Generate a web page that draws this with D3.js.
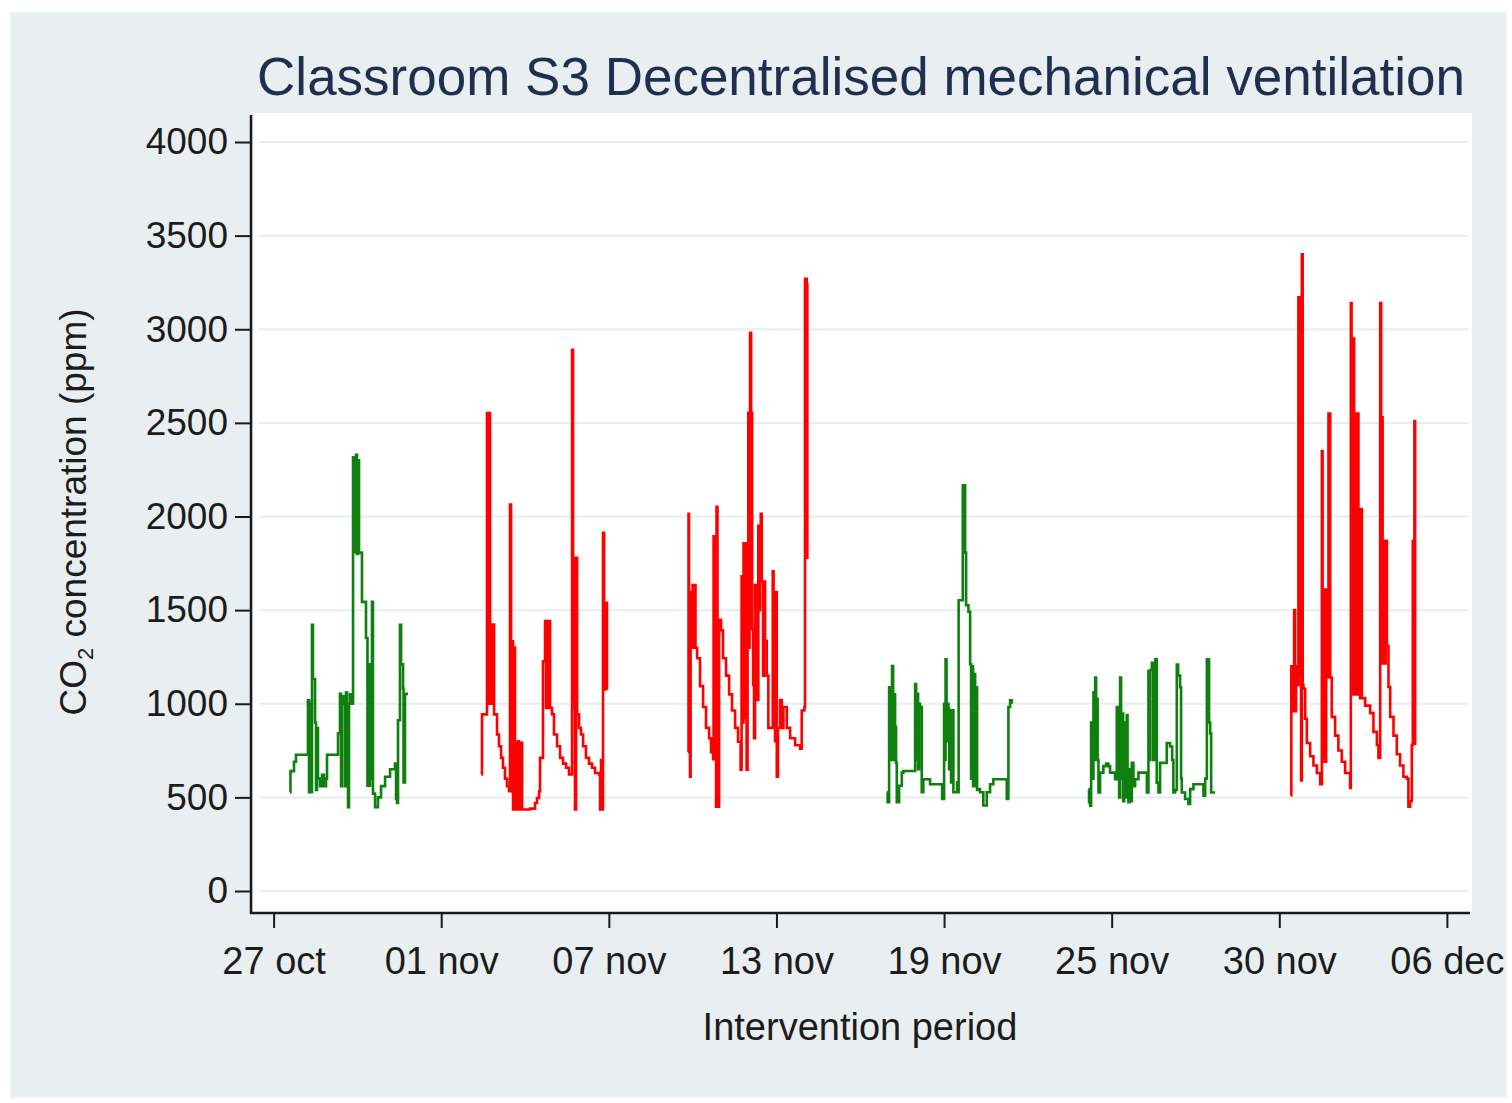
<!DOCTYPE html>
<html>
<head>
<meta charset="utf-8">
<script src="https://cdn.jsdelivr.net/npm/d3@7"></script>
<style>
  html, body { margin: 0; padding: 0; background: #ffffff; }
  svg { display: block; }
  text { font-family: "Liberation Sans", Arial, sans-serif; }
</style>
</head>
<body>
<svg id="chart" width="1512" height="1103"></svg>
<script>
// ---------------- DATA ----------------
// time = hours since 27 Oct 00:00, value = CO2 ppm
const titleText = "Classroom S3 Decentralised mechanical ventilation";
const xTitle = "Intervention period";
const yTitleMain = "CO";
const yTitleSub = "2";
const yTitleRest = " concentration (ppm)";

const xTickHours = [0, 137.14, 274.29, 411.43, 548.57, 685.71, 822.86, 960];
const xTickLabels = ["27 oct", "01 nov", "07 nov", "13 nov", "19 nov", "25 nov", "30 nov", "06 dec"];
const yTicks = [0, 500, 1000, 1500, 2000, 2500, 3000, 3500, 4000];

const weekColors = ["green", "red", "red", "green", "green", "red"];

const week1 = [
  [13.4,527],[13.8,640],[15.9,640],[16.7,690],[18.3,728],[26.5,728],[28.1,1018],[29.0,527],[29.8,1000],[30.6,527],
  [31.4,1421],[32.2,1132],[33.1,1132],[33.9,900],[34.7,540],[35.5,870],[36.3,600],[38.0,560],[39.6,620],[41.2,560],
  [42.9,600],[43.7,728],[51.9,728],[52.7,842],[54.3,1053],[55.2,560],[56.0,1040],[57.6,1000],[58.4,560],[59.2,1060],
  [60.1,1000],[60.9,448],[61.7,1000],[62.5,1050],[64.2,1000],[65.0,2316],[65.8,2280],[66.6,1810],[67.4,2330],[68.2,1800],
  [69.1,2300],[69.9,1807],[71.5,1807],[72.3,1544],[74.8,1544],[75.6,1351],[76.4,1351],[76.8,562],[77.2,1211],[78.1,562],
  [78.9,1211],[79.7,600],[80.5,1544],[81.3,520],[83.0,448],[85.4,500],[87.9,560],[91.2,610],[95.3,650],[99.3,680],
  [100.2,491],[101.0,470],[101.8,912],[102.6,912],[103.4,1421],[104.3,1211],[105.1,1211],[105.9,1080],[106.3,580],[107.5,1053],
  [110.0,1053]
];

const week2 = [
  [170.1,622],[170.5,943],[173.8,943],[174.6,2553],[175.4,1000],[176.3,2553],[177.1,1000],[177.9,1423],[178.7,1000],[179.5,1423],
  [180.4,943],[181.2,943],[182.8,836],[184.4,773],[186.1,711],[187.7,658],[189.3,600],[191.0,560],[192.6,533],[193.4,2064],
  [194.3,533],[195.1,1334],[195.9,435],[196.7,1300],[197.5,435],[198.4,791],[199.2,435],[200.0,800],[200.8,435],[202.4,791],
  [203.3,435],[205.7,435],[209.8,440],[213.9,470],[215.5,497],[217.2,533],[218.0,711],[219.6,711],[220.4,1227],[221.3,1227],
  [222.1,1441],[222.9,978],[223.7,1441],[224.5,978],[225.4,1441],[226.2,978],[227.8,943],[229.4,836],[231.9,773],[234.4,711],
  [236.8,680],[239.3,658],[241.7,622],[243.4,622],[244.2,2890],[245.0,1779],[245.8,978],[246.6,435],[247.5,1779],[248.3,943],
  [249.9,871],[251.5,836],[253.2,773],[255.6,711],[258.1,680],[260.5,658],[263.0,630],[266.3,622],[267.1,435],[267.9,700],
  [268.7,435],[269.5,1913],[270.4,1539],[271.2,1076],[272.0,1539],[272.8,1076]
];

const week3 = [
  [339.1,741],[339.5,2015],[339.9,1500],[340.7,611],[341.2,1596],[342.0,1299],[342.8,1634],[343.6,1299],[344.4,1634],[345.2,1299],
  [346.5,1243],[348.9,1094],[351.4,983],[353.8,871],[356.3,816],[357.9,741],[359.6,704],[360.0,1894],[360.8,1100],[361.2,1894],
  [362.0,450],[362.4,2052],[363.2,1150],[364.1,450],[364.5,1392],[365.3,1448],[366.1,1392],[367.7,1243],[370.2,1150],[372.7,1050],
  [375.1,964],[377.6,871],[380.0,797],[382.1,648],[382.9,1680],[383.7,900],[384.5,1857],[385.3,927],[386.2,1857],[387.0,648],
  [387.8,1400],[388.4,2554],[389.0,1300],[389.4,2554],[389.8,2981],[390.7,2554],[391.5,1400],[392.3,1100],[393.1,816],[393.9,1634],
  [394.7,1020],[395.6,1634],[396.0,1020],[396.6,1950],[397.2,1500],[398.0,1950],[398.6,2015],[399.4,1652],[400.5,1150],[401.3,1652],
  [402.1,1336],[403.5,1150],[404.8,871],[407.6,871],[408.4,1708],[409.1,1000],[409.5,1596],[410.3,800],[411.1,1596],[411.7,611],
  [412.7,871],[414.4,1020],[415.8,871],[417.1,983],[419.9,871],[422.6,816],[426.7,778],[430.8,760],[432.1,964],[434.3,983],
  [434.8,3270],[436.2,3240],[436.7,1773]
];

const week4 = [
  [501.7,527],[502.4,474],[503.0,474],[503.6,1088],[504.4,700],[505.2,1088],[506.0,1202],[506.9,700],[507.7,1050],[508.5,877],
  [509.3,684],[509.9,474],[511.8,562],[514.0,632],[515.3,641],[523.2,641],[524.9,1105],[525.7,700],[526.5,1053],[527.3,650],
  [528.1,1000],[528.9,983],[530.3,527],[531.6,597],[535.7,597],[537.1,570],[546.7,570],[547.0,492],[548.6,1000],[549.4,700],
  [549.8,1237],[550.6,800],[551.4,1000],[552.1,974],[552.7,650],[553.5,965],[554.3,580],[555.1,965],[556.2,527],[559.2,580],
  [560.3,527],[560.5,1553],[562.5,1553],[563.9,2167],[565.8,1807],[566.6,1526],[568.5,1491],[569.9,1211],[570.7,600],[571.5,1200],
  [572.3,560],[573.1,1158],[574.0,560],[574.8,1088],[575.6,540],[576.7,544],[578.0,527],[580.7,457],[583.5,527],[586.2,570],
  [588.9,597],[598.5,597],[599.9,492],[601.2,983],[602.6,1018],[604.0,1000]
];

const week5 = [
  [666.7,544],[667.2,474],[668.1,456],[668.9,900],[669.7,600],[670.8,1061],[671.3,700],[672.2,1140],[673.0,800],[673.5,1026],
  [674.2,700],[674.9,526],[676.2,632],[678.9,667],[681.2,680],[683.0,667],[684.4,632],[687.1,632],[688.5,597],[689.3,597],
  [689.9,982],[690.6,600],[691.4,900],[691.8,500],[692.6,1140],[693.4,600],[694.2,947],[695.1,480],[695.9,900],[696.7,500],
  [698.1,939],[698.7,600],[699.4,474],[700.4,650],[701.2,480],[702.2,684],[703.5,560],[704.9,597],[707.6,632],[713.9,632],
  [714.5,526],[715.8,1175],[716.3,700],[717.2,1180],[718.6,1219],[719.6,700],[721.3,1237],[722.6,579],[724.0,526],[725.3,684],
  [729.4,684],[730.8,790],[733.5,772],[735.2,700],[736.2,526],[737.6,540],[739.0,1210],[740.1,1150],[741.7,1088],[742.5,600],
  [743.1,526],[745.8,491],[748.5,465],[749.9,544],[752.6,570],[759.5,570],[760.8,509],[762.2,600],[763.6,1237],[764.6,1237],
  [765.4,900],[766.3,842],[767.1,526],[770.3,526]
];

const week6 = [
  [832.3,510],[832.7,1200],[833.4,960],[834.2,1200],[835.0,1500],[835.8,960],[836.6,1200],[837.2,1200],[837.9,1100],[838.5,3170],
  [839.1,1150],[839.9,3170],[840.3,1150],[840.7,590],[841.3,3400],[842.0,1100],[842.6,1080],[844.0,920],[845.4,790],[848.1,720],
  [850.8,670],[853.6,630],[856.3,570],[857.7,2350],[858.3,1610],[859.0,690],[859.5,1610],[860.4,690],[861.2,1610],[861.8,1140],
  [863.1,2550],[864.5,1140],[865.8,930],[868.5,830],[871.2,750],[874.0,690],[876.7,630],[880.8,550],[881.4,3140],[882.0,1050],
  [882.7,2950],[883.5,2950],[884.1,1050],[884.9,2550],[885.7,1050],[886.5,2550],[887.6,1050],[888.2,2040],[889.0,1030],[889.8,2040],
  [890.4,1030],[893.1,990],[897.2,950],[899.9,850],[902.7,780],[904.0,710],[905.4,3140],[906.2,1215],[906.8,2530],[907.4,1215],
  [908.1,1870],[909.0,1215],[909.9,1870],[910.9,1310],[912.2,1090],[913.6,930],[916.3,830],[919.0,730],[921.7,670],[924.4,610],
  [927.2,600],[928.5,450],[929.9,480],[931.3,780],[932.1,1870],[933.4,2510],[934.0,780]
];

const weeks = [week1, week2, week3, week4, week5, week6];

// ---------------- DRAWING ----------------
const svg = d3.select("#chart");
const colorMap = { green: "#0f7f0f", red: "#ff0000" };

// outer graph region
svg.append("rect").attr("x", 0).attr("y", 0).attr("width", 1512).attr("height", 1103).attr("fill", "#ffffff");
svg.append("rect").attr("x", 10).attr("y", 12).attr("width", 1497).attr("height", 1086)
  .attr("fill", "#e9eff1").attr("stroke", "#f6f9fa").attr("stroke-width", 2);

// plot region
const plot = { left: 253, top: 113, right: 1472, bottom: 913 };
svg.append("rect").attr("x", plot.left).attr("y", plot.top)
  .attr("width", plot.right - plot.left).attr("height", plot.bottom - plot.top).attr("fill", "#ffffff");

const x = d3.scaleLinear().domain([0, 960]).range([273.6, 1446.9]);
const y = d3.scaleLinear().domain([0, 4000]).range([891, 142]);

// grid lines
svg.append("g").selectAll("line").data(yTicks).join("line")
  .attr("x1", plot.left + 6).attr("x2", plot.right - 4)
  .attr("y1", d => y(d)).attr("y2", d => y(d))
  .attr("stroke", "#e8edf0").attr("stroke-width", 2);

// series
const line = d3.line().x(d => x(d[0])).y(d => y(d[1])).curve(d3.curveStepAfter);
weeks.forEach((w, i) => {
  svg.append("path").datum(w).attr("d", line)
    .attr("fill", "none").attr("stroke", colorMap[weekColors[i]])
    .attr("stroke-width", 2.6).attr("stroke-linejoin", "miter");
});

// axes
const yAxis = d3.axisLeft(y).tickValues(yTicks).tickFormat(d3.format("d"))
  .tickSize(16).tickSizeOuter(0).tickPadding(7);
const gy = svg.append("g").attr("transform", `translate(${plot.left - 2},0)`).call(yAxis);
gy.select(".domain").remove();
gy.selectAll(".tick line").attr("stroke", "#1a1a1a").attr("stroke-width", 2);
gy.selectAll(".tick text").attr("font-size", 37).attr("fill", "#1c1c1c")
  .attr("font-family", "'Liberation Sans', Arial, sans-serif");

const xAxis = d3.axisBottom(x).tickValues(xTickHours)
  .tickFormat((d, i) => xTickLabels[i]).tickSize(15).tickSizeOuter(0).tickPadding(19);
const gx = svg.append("g").attr("transform", `translate(0,${plot.bottom})`).call(xAxis);
gx.select(".domain").remove();
gx.selectAll(".tick line").attr("stroke", "#1a1a1a").attr("stroke-width", 2);
gx.selectAll(".tick text").attr("font-size", 38).attr("fill", "#1c1c1c")
  .attr("font-family", "'Liberation Sans', Arial, sans-serif");

// axis lines
svg.append("line").attr("x1", plot.left - 2).attr("x2", plot.left - 2)
  .attr("y1", plot.top + 2).attr("y2", plot.bottom + 1)
  .attr("stroke", "#1a1a1a").attr("stroke-width", 2.5);
svg.append("line").attr("x1", plot.left - 3).attr("x2", plot.right - 2)
  .attr("y1", plot.bottom).attr("y2", plot.bottom)
  .attr("stroke", "#1a1a1a").attr("stroke-width", 2.5);

// title
svg.append("text").attr("x", 861).attr("y", 95).attr("text-anchor", "middle")
  .attr("font-size", 53).attr("fill", "#1f2f4f").text(titleText);

// x title
svg.append("text").attr("x", 860).attr("y", 1040).attr("text-anchor", "middle")
  .attr("font-size", 38).attr("fill", "#1c1c1c").text(xTitle);

// y title
const yt = svg.append("text").attr("transform", "translate(86,512) rotate(-90)")
  .attr("text-anchor", "middle").attr("font-size", 37).attr("fill", "#1c1c1c");
yt.append("tspan").text(yTitleMain);
yt.append("tspan").attr("font-size", 22).attr("dy", 7).text(yTitleSub);
yt.append("tspan").attr("dy", -7).text(yTitleRest);
</script>
</body>
</html>
